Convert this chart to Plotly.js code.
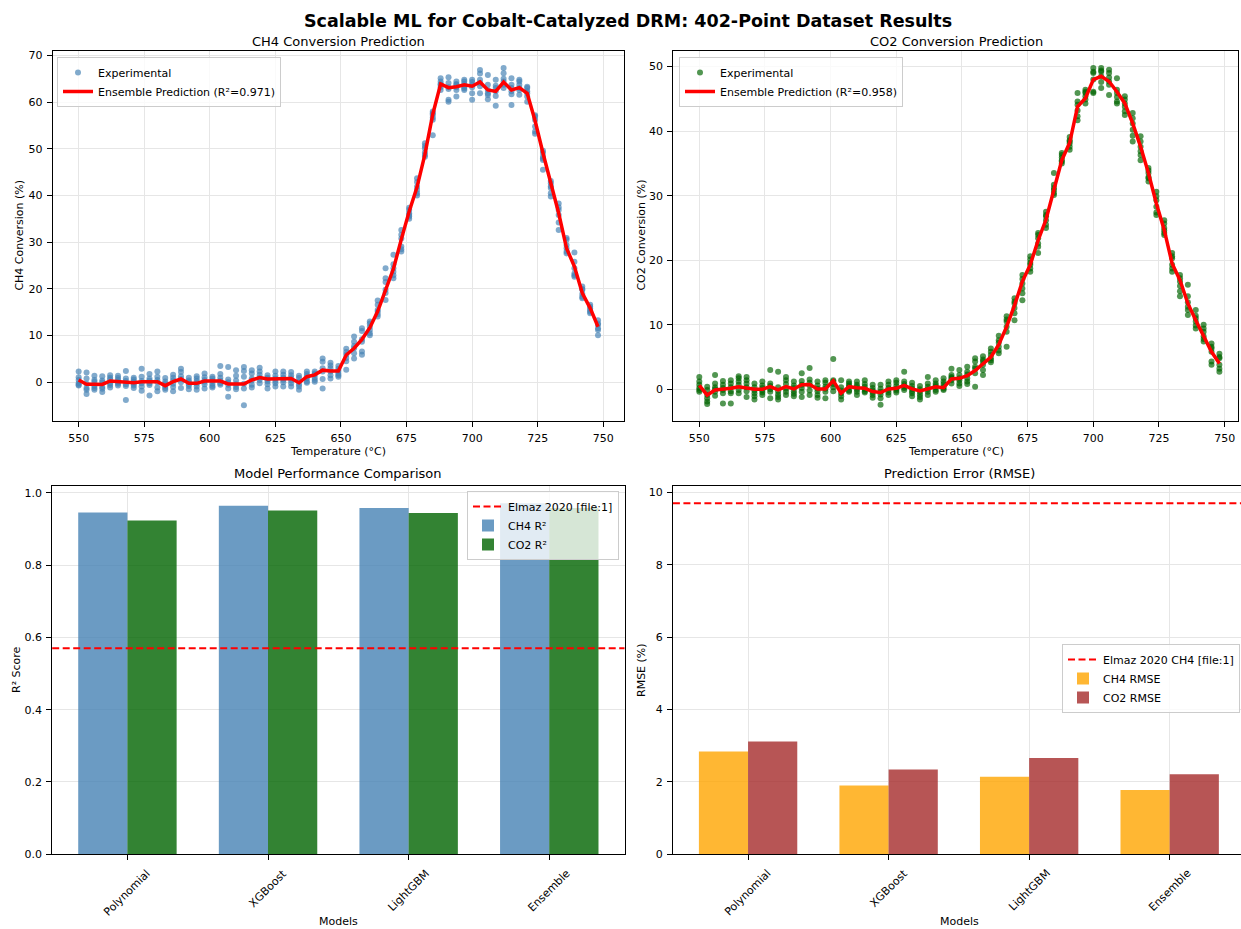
<!DOCTYPE html>
<html>
<head>
<meta charset="utf-8">
<script src="https://cdn.plot.ly/plotly-3.0.1.min.js"></script>
<style>html,body{margin:0;padding:0;background:#fff;}#chart{width:1241px;height:929px;}</style>
</head>
<body>
<div id="chart"></div>
<script>
// ---------- DATA ----------
const temps = [550,553,556,559,562,565,568,571,574,577,580,583,586,589,592,595,598,601,604,607,610,613,616,619,622,625,628,631,634,637,640,643,646,649,652,655,658,661,664,667,670,673,676,679,682,685,688,691,694,697,700,703,706,709,712,715,718,721,724,727,730,733,736,739,742,745,748];

const ch4Line = [0.5,-0.43,-0.43,-0.45,0.3,0.14,0.1,-0.08,0.14,0.1,
  0.14,-0.72,0.14,0.71,-0.22,-0.22,0.28,0.28,0.28,-0.36,
  -0.36,-0.36,0.5,1.0,0.7,0.7,0.7,0.8,-0.1,1.2,
  1.6,2.6,2.4,2.4,5.85,7.3,9.2,11.7,15.2,19.9,
  24.3,30.6,36.6,41.8,48.8,57.4,63.9,63.1,63.3,63.7,
  63.4,64.3,62.6,62.3,64.3,62.6,63.1,61.9,56.0,49.1,
  42.5,36.2,28.7,24.8,19.1,15.9,11.9];

const co2Line = [0.6,-0.9,-0.1,0.0,0.15,0.4,0.15,0.0,0.0,0.4,
  -0.1,0.4,0.05,0.7,0.75,0.05,0.05,1.3,-0.6,0.4,
  0.25,0.15,-0.35,-0.5,0.05,0.15,0.6,0.05,-0.25,0.05,
  0.4,0.25,1.6,1.7,2.1,2.9,4.0,5.0,6.9,9.7,
  13.0,16.7,19.3,23.1,26.3,30.9,35.5,38.2,43.8,45.1,
  48.0,48.5,47.7,46.1,44.3,41.2,37.6,33.5,28.8,24.7,
  19.5,16.9,13.3,10.7,8.2,5.8,4.0];

const ch4Exp = [
 [2.3,1.1,0.5,-0.2,-0.5,-0.7],[2.1,0.8,-0.3,-1.2,-1.6,-2.5],[1.4,0.5,0.1,-0.8,-1.2,-1.6],[1.3,0.4,0.0,-1.0,-1.4,-2.1],
 [1.5,1.0,0.6,-0.2,-0.6,-1.1],[1.4,0.9,0.5,0.0,-0.3,-0.7],[2.4,0.8,0.3,-0.4,-0.8,-3.8],[1.0,0.6,0.1,-0.3,-0.7,-1.2],
 [2.9,1.2,0.3,-0.2,-0.9,-1.8],[1.8,0.8,0.4,-0.2,-0.6,-2.8],[2.3,1.2,0.5,0.0,-1.1,-1.9],[0.9,0.2,-0.3,-0.8,-1.2,-1.6],
 [1.6,1.0,0.4,-0.3,-1.0,-1.9],[2.9,2.2,1.3,0.7,0.0,-1.2],[1.0,0.4,0.0,-0.4,-0.8,-1.5],[1.3,0.8,0.3,-0.3,-0.9,-1.6],
 [1.9,1.1,0.5,0.1,-0.4,-1.3],[1.2,0.8,0.3,-0.3,-0.8,-1.1],[3.5,1.8,1.0,0.4,-0.2,-0.5],[3.3,0.6,0.0,-0.5,-1.3,-3.1],
 [2.6,1.4,0.4,-0.4,-1.0,-1.5],[3.3,2.4,1.2,-0.3,-1.3,-4.9],[2.6,1.9,0.8,0.4,-0.5,-1.1],[3.1,2.3,1.6,1.0,0.5,-0.2],
 [1.5,1.0,0.6,0.2,-0.4,-1.3],[2.3,1.4,0.8,0.3,-0.2,-0.9],[2.3,1.6,1.0,0.5,0.0,-0.9],[2.2,1.5,0.9,0.4,-0.2,-0.9],
 [1.4,0.9,0.2,-0.4,-0.9,-1.6],[2.3,1.8,1.3,0.8,0.2,-0.1],[2.3,1.9,1.6,1.0,0.5,0.1],[5.1,4.4,3.0,2.3,0.7,-1.3],
 [4.2,3.6,3.0,2.3,1.5,0.8],[3.5,2.9,2.4,1.9,1.5,1.2],[7.2,6.5,5.9,5.2,4.5,2.7],[9.8,8.7,7.8,7.3,6.2,5.1],
 [11.6,11.0,9.2,8.7,6.6,5.9],[13.0,12.6,11.9,11.2,10.5,10.1],[17.5,16.6,15.5,15.1,14.6,14.1],[24.4,22.3,21.5,19.8,19.1,17.6],
 [27.3,25.3,24.4,23.7,22.9,22.3],[32.6,31.6,30.8,29.1,28.5,28.0],[37.4,36.9,36.2,35.8,35.5,35.0],[43.7,42.9,41.9,41.2,40.5,40.0],
 [51.2,50.6,50.1,49.2,48.7,48.3],[58.0,57.6,57.3,56.7,56.2,52.9],[65.1,64.4,63.9,63.7,63.2,62.6],[65.3,64.1,63.2,62.8,60.5,60.1],
 [64.4,63.9,63.7,63.2,62.6,61.2],[64.8,64.4,63.9,63.3,62.9,62.6],[64.8,64.3,63.7,63.2,61.9,60.5],[66.9,66.1,64.8,64.1,63.4,61.9],
 [65.8,63.7,62.6,61.9,61.5,60.6],[64.8,63.5,63.0,62.3,61.3,59.2],[67.3,66.2,65.0,64.4,63.7,63.0],[65.1,63.7,63.0,62.3,61.7,59.4],
 [64.8,64.4,63.7,63.0,62.6,61.6],[63.3,63.0,62.3,61.9,61.2,60.1],[57.2,56.9,56.2,54.8,53.7,53.2],[49.6,49.1,48.3,47.9,47.6,45.5],
 [43.1,42.6,42.0,41.6,40.5,39.8],[38.3,37.5,36.9,35.8,34.2,32.6],[30.9,30.5,29.4,28.7,28.0,27.6],[27.8,25.8,24.4,23.3,22.9,22.6],
 [20.5,20.0,19.8,18.9,18.3,18.0],[16.6,16.2,15.8,15.4,15.1,14.8],[13.3,12.6,12.3,11.6,11.2,10.1]
];

const co2Exp = [
 [1.9,1.2,0.7,0.2,-0.1,-0.4],[0.4,-0.1,-0.9,-1.4,-1.9,-2.3],[2.2,0.9,0.3,0.0,-0.4,-1.0],[1.3,0.7,0.2,-0.1,-0.6,-2.2],
 [1.4,0.9,0.3,-0.3,-0.6,-2.2],[2.0,1.7,1.2,0.7,-0.1,-0.6],[1.9,1.4,0.9,0.3,-0.3,-1.2],[0.9,0.3,-0.2,-0.6,-1.1,-1.6],
 [1.2,0.6,0.2,-0.2,-0.5,-0.9],[3.0,0.9,0.5,0.0,-0.4,-1.4],[2.7,0.3,-0.3,-0.8,-1.2,-1.6],[1.9,1.4,0.8,0.1,-0.4,-0.9],
 [1.2,0.6,0.2,-0.3,-0.7,-1.1],[2.5,1.3,0.7,0.2,-0.4,-1.2],[3.3,1.5,1.0,0.6,-0.2,-0.9],[1.2,0.6,0.1,-0.3,-0.9,-1.3],
 [1.4,1.0,0.4,0.1,-0.4,-1.4],[4.7,1.4,1.2,0.8,0.3,-0.3],[1.4,0.3,-0.2,-0.6,-1.1,-1.6],[1.2,0.9,0.6,0.3,-0.2,-0.4],
 [1.2,0.7,0.4,0.0,-0.4,-0.9],[1.4,0.8,0.4,0.0,-0.3,-0.5],[0.7,0.2,-0.2,-0.5,-0.9,-1.3],[0.7,0.1,-0.4,-0.8,-1.4,-2.4],
 [1.2,0.7,0.2,-0.1,-0.5,-0.9],[1.4,1.0,0.5,0.1,-0.2,-0.5],[2.7,1.2,0.8,0.5,0.2,-0.1],[1.0,0.5,0.1,-0.3,-0.6,-1.1],
 [0.5,0.0,-0.4,-0.8,-1.2,-1.6],[1.9,0.9,0.4,0.0,-0.4,-0.9],[1.4,0.9,0.6,0.3,-0.1,-0.4],[1.7,1.2,0.8,0.4,0.1,-0.1],
 [3.2,2.2,1.9,1.7,1.4,0.9],[3.0,2.2,1.7,1.4,0.9,0.5],[3.5,2.7,2.3,1.7,1.2,0.8],[4.8,4.3,3.5,3.2,2.5,0.4],
 [5.1,4.6,4.3,3.8,3.0,2.2],[6.3,5.8,5.3,4.8,4.5,4.2],[8.3,7.6,7.2,6.6,6.0,5.6],[11.3,10.8,10.5,9.7,8.9,6.6],
 [14.1,13.6,13.3,12.6,11.8,10.7],[17.7,17.1,16.4,15.6,14.9,13.8],[20.6,20.1,19.6,19.3,18.7,18.2],[24.2,23.9,23.4,22.6,22.1,21.1],
 [27.5,27.0,26.8,26.2,25.5,25.0],[33.5,31.7,31.2,30.9,30.4,30.1],[36.6,36.3,35.9,35.5,35.3,35.0],[39.1,38.6,38.4,38.1,37.6,37.1],
 [45.9,44.6,44.1,43.2,42.3,41.7],[46.4,46.1,45.9,45.4,44.9,44.3],[49.8,49.2,49.0,48.0,46.1,45.9],[49.8,49.4,49.2,48.5,47.6,46.7],
 [49.5,49.0,48.3,47.7,47.2,45.6],[48.2,46.4,45.9,45.3,44.6,44.3],[45.4,44.9,44.3,43.8,43.1,42.5],[42.8,42.0,41.2,40.2,39.3,38.4],
 [39.2,38.4,37.6,36.9,36.3,35.5],[34.3,33.9,33.5,32.9,32.7,32.2],[30.6,29.9,29.3,28.3,27.4,27.0],[26.2,25.7,25.0,24.6,24.2,23.9],
 [21.1,20.6,20.3,19.3,18.7,18.2],[17.7,17.2,16.7,16.0,15.2,14.4],[16.2,14.4,13.5,12.8,12.3,11.5],[12.3,11.4,11.0,10.5,9.9,9.4],
 [10.0,9.4,8.9,8.2,7.8,7.4],[7.1,6.6,6.3,5.8,4.3,3.8],[5.5,5.0,4.8,3.8,3.2,2.7]
];

const models = ['Polynomial','XGBoost','LightGBM','Ensemble'];
const ch4R2 = [0.945, 0.964, 0.958, 0.971];
const co2R2 = [0.923, 0.951, 0.944, 0.958];
const ch4Rmse = [2.84, 1.90, 2.14, 1.78];
const co2Rmse = [3.12, 2.34, 2.66, 2.21];
const elmazR2 = 0.57;
const elmazRmse = 9.7;
const xTicks = [550,575,600,625,650,675,700,725,750];

// ---------- STYLE ----------
const FONT = 'DejaVu Sans';
const FS = 11;
const W = 1241, H = 929;
const px = v => v / W;
const py = v => 1 - v / H;
const gridColor = '#e6e6e6';

function axisBase(extra) {
  return Object.assign({
    showline: true, linecolor: '#000', linewidth: 1, mirror: true,
    ticks: 'outside', ticklen: 5, tickwidth: 1, tickcolor: '#000',
    ticklabelstandoff: 2,
    showgrid: true, gridcolor: gridColor, gridwidth: 1, zeroline: false,
    automargin: false,
    tickfont: {family: FONT, size: FS, color: '#000'}
  }, extra);
}

const flatX = rows => rows.flatMap((r, i) => r.map(() => temps[i]));
const flatY = rows => rows.flat();

const traces = [
  {type:'scatter', mode:'markers', name:'Experimental', x: flatX(ch4Exp), y: flatY(ch4Exp),
   xaxis:'x', yaxis:'y', legend:'legend',
   marker:{color:'#4682B4', size:6, opacity:0.68, line:{width:0}}},
  {type:'scatter', mode:'lines', name:'Ensemble Prediction (R²=0.971)', x: temps, y: ch4Line,
   xaxis:'x', yaxis:'y', legend:'legend', line:{color:'#ff0000', width:3.5}},
  {type:'scatter', mode:'markers', name:'Experimental', x: flatX(co2Exp), y: flatY(co2Exp),
   xaxis:'x2', yaxis:'y2', legend:'legend2',
   marker:{color:'#006400', size:6, opacity:0.68, line:{width:0}}},
  {type:'scatter', mode:'lines', name:'Ensemble Prediction (R²=0.958)', x: temps, y: co2Line,
   xaxis:'x2', yaxis:'y2', legend:'legend2', line:{color:'#ff0000', width:3.5}},

  {type:'scatter', mode:'lines', name:'Elmaz 2020 [file:1]', x:[null], y:[null],
   xaxis:'x3', yaxis:'y3', legend:'legend3', line:{color:'#ff0000', width:2, dash:'7px,3.5px'}},
  {type:'bar', name:'CH4 R²', x: models, y: ch4R2, xaxis:'x3', yaxis:'y3', legend:'legend3',
   marker:{color:'rgba(70,130,180,0.8)'}},
  {type:'bar', name:'CO2 R²', x: models, y: co2R2, xaxis:'x3', yaxis:'y3', legend:'legend3',
   marker:{color:'rgba(0,100,0,0.8)'}},

  {type:'scatter', mode:'lines', name:'Elmaz 2020 CH4 [file:1]', x:[null], y:[null],
   xaxis:'x4', yaxis:'y4', legend:'legend4', line:{color:'#ff0000', width:2, dash:'7px,3.5px'}},
  {type:'bar', name:'CH4 RMSE', x: models, y: ch4Rmse, xaxis:'x4', yaxis:'y4', legend:'legend4',
   marker:{color:'rgba(255,165,0,0.8)'}},
  {type:'bar', name:'CO2 RMSE', x: models, y: co2Rmse, xaxis:'x4', yaxis:'y4', legend:'legend4',
   marker:{color:'rgba(165,42,42,0.8)'}}
];

const legendBase = {
  bgcolor:'rgba(255,255,255,0.8)', bordercolor:'#cccccc', borderwidth:1,
  font:{family: FONT, size:FS, color:'#000'}, tracegroupgap:0, itemwidth:30
};

function ann(text, x, y, opts) {
  return Object.assign({text, x, y, xref:'paper', yref:'paper', showarrow:false,
    xanchor:'center', yanchor:'middle', font:{family: FONT, size:FS, color:'#000'}}, opts || {});
}

const TFS = 13;
const annotations = [
  ann('<b>Scalable ML for Cobalt-Catalyzed DRM: 402-Point Dataset Results</b>', px(628), py(21), {font:{family:FONT, size:17.5, color:'#000'}}),
  ann('CH4 Conversion Prediction', px(338), py(41), {font:{family:FONT, size:TFS, color:'#000'}}),
  ann('CO2 Conversion Prediction', px(956), py(41), {font:{family:FONT, size:TFS, color:'#000'}}),
  ann('Model Performance Comparison', px(338), py(474), {font:{family:FONT, size:TFS, color:'#000'}}),
  ann('Prediction Error (RMSE)', px(959), py(474), {font:{family:FONT, size:TFS, color:'#000'}}),
  ann('Temperature (°C)', px(338), py(451)),
  ann('Temperature (°C)', px(956), py(451)),
  ann('Models', px(338), py(921)),
  ann('Models', px(959), py(921)),
  ann('CH4 Conversion (%)', px(20), py(235.6), {textangle:-90}),
  ann('CO2 Conversion (%)', px(642), py(235.6), {textangle:-90}),
  ann('R² Score', px(16), py(670), {textangle:-90}),
  ann('RMSE (%)', px(641), py(670), {textangle:-90})
];
models.forEach(m => {
  annotations.push({text:m, x:m, xref:'x3', y:py(864), yref:'paper', showarrow:false, textangle:-45,
    xanchor:'center', yanchor:'top', font:{family:FONT, size:FS, color:'#000'}});
  annotations.push({text:m, x:m, xref:'x4', y:py(864), yref:'paper', showarrow:false, textangle:-45,
    xanchor:'center', yanchor:'top', font:{family:FONT, size:FS, color:'#000'}});
});

const layout = {
  width: W, height: H, margin:{l:0, r:0, t:0, b:0, autoexpand:false},
  paper_bgcolor:'#fff', plot_bgcolor:'#fff',
  font:{family: FONT, size:FS, color:'#000'},
  barmode:'group', bargap:0.3, bargroupgap:0,
  xaxis: axisBase({domain:[px(52.7), px(624)], range:[540.1, 757.9], tickvals: xTicks, anchor:'y'}),
  yaxis: axisBase({domain:[py(420.7), py(50.5)], range:[-8.22, 71.05], dtick:10, tick0:0, anchor:'x'}),
  xaxis2: axisBase({domain:[px(673.3), px(1238.3)], range:[540.1, 755.2], tickvals: xTicks, anchor:'y2'}),
  yaxis2: axisBase({domain:[py(420.7), py(50.5)], range:[-4.87, 52.5], dtick:10, tick0:0, anchor:'x2'}),
  xaxis3: axisBase({domain:[px(52.2), px(624.5)], range:[-0.535, 3.535], type:'category', showticklabels:false, anchor:'y3'}),
  yaxis3: axisBase({domain:[py(854.3), py(485.7)], range:[0, 1.0194], dtick:0.2, tick0:0, tickformat:'.1f', anchor:'x3'}),
  xaxis4: axisBase({domain:[px(672.9), 1], range:[-0.535, 3.5075], type:'category', showticklabels:false, anchor:'y4'}),
  yaxis4: axisBase({domain:[py(854.3), py(485.7)], range:[0, 10.185], dtick:2, tick0:0, mirror:false, anchor:'x4'}),
  legend: Object.assign({}, legendBase, {x:px(57), y:py(57), xanchor:'left', yanchor:'top'}),
  legend2: Object.assign({}, legendBase, {x:px(679), y:py(57), xanchor:'left', yanchor:'top'}),
  legend3: Object.assign({}, legendBase, {x:px(619), y:py(491), xanchor:'right', yanchor:'top'}),
  legend4: Object.assign({}, legendBase, {x:px(1240), y:py(644), xanchor:'right', yanchor:'top'}),
  shapes: [
    {type:'line', xref:'x3 domain', x0:0, x1:1, yref:'y3', y0:elmazR2, y1:elmazR2,
     line:{color:'#ff0000', width:2, dash:'7px,3.5px'}, layer:'above'},
    {type:'line', xref:'x4 domain', x0:0, x1:1, yref:'y4', y0:elmazRmse, y1:elmazRmse,
     line:{color:'#ff0000', width:2, dash:'7px,3.5px'}, layer:'above'}
  ],
  annotations: annotations,
  showlegend: true
};

Plotly.newPlot('chart', traces, layout, {staticPlot:true, displayModeBar:false});
</script>
</body>
</html>
